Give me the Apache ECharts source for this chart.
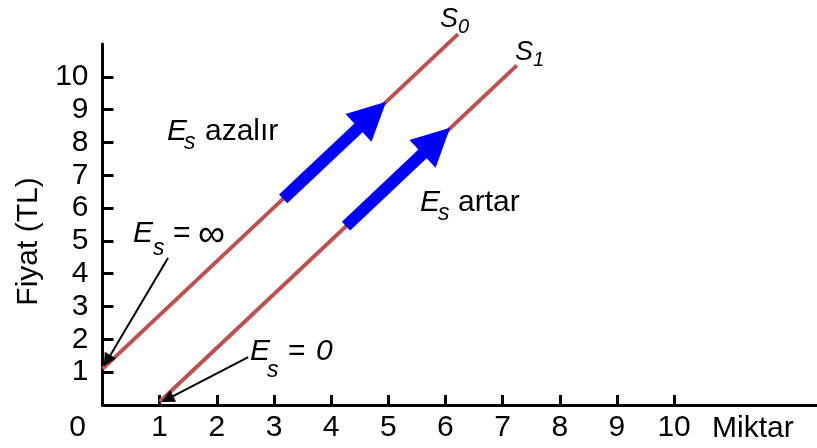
<!DOCTYPE html>
<html>
<head>
<meta charset="utf-8">
<script src="https://cdn.jsdelivr.net/npm/echarts@6/dist/echarts.min.js"></script>
<style>
  html, body { margin: 0; padding: 0; background: #ffffff; }
  #chart { width: 817px; height: 448px; }
</style>
</head>
<body>
<div id="chart"></div>
<script>
// Axis ticks and labels
const xTickValues = [1, 2, 3, 4, 5, 6, 7, 8, 9, 10];
const xLabelValues = [0, 1, 2, 3, 4, 5, 6, 7, 8, 9, 10];
const yTickValues = [1, 2, 3, 4, 5, 6, 7, 8, 9, 10];

// Supply curves (quantity, price)
const supplyS0 = [[0, 1.1], [6.22, 11.3]];
const supplyS1 = [[1, 0.1], [7.25, 10.35]];

// Blue arrows along each curve: [tail, shaft end]
const shiftArrows = [
  [[3.16, 6.28], [4.72, 8.84]],
  [[4.26, 5.45], [5.84, 8.05]]
];

// Thin pointers from the elasticity notes to the curve ends: [start, shaft end]
const pointers = [
  [[1.146, 4.48], [0.08, 1.35]],
  [[2.55, 1.46], [1.134, 0.18]]
];

const FONT = "'Liberation Sans', Arial, Helvetica, sans-serif";
const FS = 30;

function txt(x, y, text, size, italic) {
  return {
    type: 'text', x: x, y: y, silent: true,
    style: {
      text: text, fontSize: size, fontFamily: FONT,
      fontStyle: italic ? 'italic' : 'normal',
      fill: '#000', align: 'left', verticalAlign: 'middle'
    }
  };
}

const chart = echarts.init(document.getElementById('chart'), null, { renderer: 'canvas' });

chart.setOption({
  animation: false,
  backgroundColor: '#ffffff',
  grid: { left: 102.5, right: 0, top: 44, bottom: 43, containLabel: false },
  xAxis: {
    type: 'value', min: 0, max: 12.5,
    name: 'Miktar', nameLocation: 'end', nameGap: -105,
    nameTextStyle: { fontSize: FS, fontFamily: FONT, color: '#000',
                     verticalAlign: 'top', padding: [9, 0, 0, 0] },
    axisLine: { show: true, onZero: false, lineStyle: { color: '#000', width: 3 } },
    axisTick: { show: true, inside: true, length: 10, customValues: xTickValues,
                lineStyle: { color: '#000', width: 3 } },
    axisLabel: {
      show: true, margin: 8, customValues: xLabelValues,
      fontSize: FS, fontFamily: FONT, color: '#000',
      formatter: function (v) { return v === 0 ? '{o|0}' : String(v); },
      rich: { o: { fontSize: FS, fontFamily: FONT, color: '#000', padding: [0, 50, 0, 0] } }
    },
    splitLine: { show: false }
  },
  yAxis: {
    type: 'value', min: 0, max: 11,
    name: 'Fiyat (TL)', nameLocation: 'middle', nameGap: 58,
    nameTextStyle: { fontSize: FS, fontFamily: FONT, color: '#000', padding: [0, 34, 0, 0] },
    axisLine: { show: true, onZero: false, lineStyle: { color: '#000', width: 3 } },
    axisTick: { show: true, inside: true, length: 11, customValues: yTickValues,
                lineStyle: { color: '#000', width: 3 } },
    axisLabel: { show: true, margin: 14, customValues: yTickValues,
                 fontSize: FS, fontFamily: FONT, color: '#000' },
    splitLine: { show: false }
  },
  series: [
    {
      name: 'S0', type: 'line', data: supplyS0, clip: false,
      symbol: 'none', lineStyle: { color: '#c0504d', width: 4 }, z: 2
    },
    {
      name: 'S1', type: 'line', data: supplyS1, clip: false,
      symbol: 'none', lineStyle: { color: '#c0504d', width: 4 }, z: 2
    },
    {
      type: 'lines', coordinateSystem: 'cartesian2d', z: 3,
      symbol: ['none', 'triangle'], symbolSize: [36, 38],
      lineStyle: { color: '#0000ff', width: 12, opacity: 1, cap: 'butt' },
      itemStyle: { color: '#0000ff' },
      data: shiftArrows.map(function (a) { return { coords: a }; })
    },
    {
      type: 'lines', coordinateSystem: 'cartesian2d', z: 4,
      symbol: ['none', 'triangle'], symbolSize: [10, 13],
      lineStyle: { color: '#000', width: 2, opacity: 1 },
      itemStyle: { color: '#000' },
      data: pointers.map(function (a) { return { coords: a }; })
    }
  ],
  graphic: [
    // curve names
    txt(440, 19, 'S', 27, true), txt(458, 27, '0', 20, true),
    txt(515, 52, 'S', 27, true), txt(533, 60, '1', 20, true),
    // elasticity notes
    txt(167, 132, 'E', FS, true), txt(184, 143, 's', 23, true), txt(205, 132, 'azalır', FS, false),
    txt(420, 203, 'E', FS, true), txt(438, 214, 's', 23, true), txt(458, 203, 'artar', FS, false),
    txt(133, 234, 'E', FS, true), txt(153, 249, 's', 23, true), txt(173, 234, '=', FS, false),
    txt(198, 236, '\u221E', 38, false),
    txt(250, 351.5, 'E', FS, true), txt(267, 371, 's', 23, true), txt(288, 351.5, '=', FS, false),
    txt(316, 351.5, '0', FS, true)
  ]
});
</script>
</body>
</html>
